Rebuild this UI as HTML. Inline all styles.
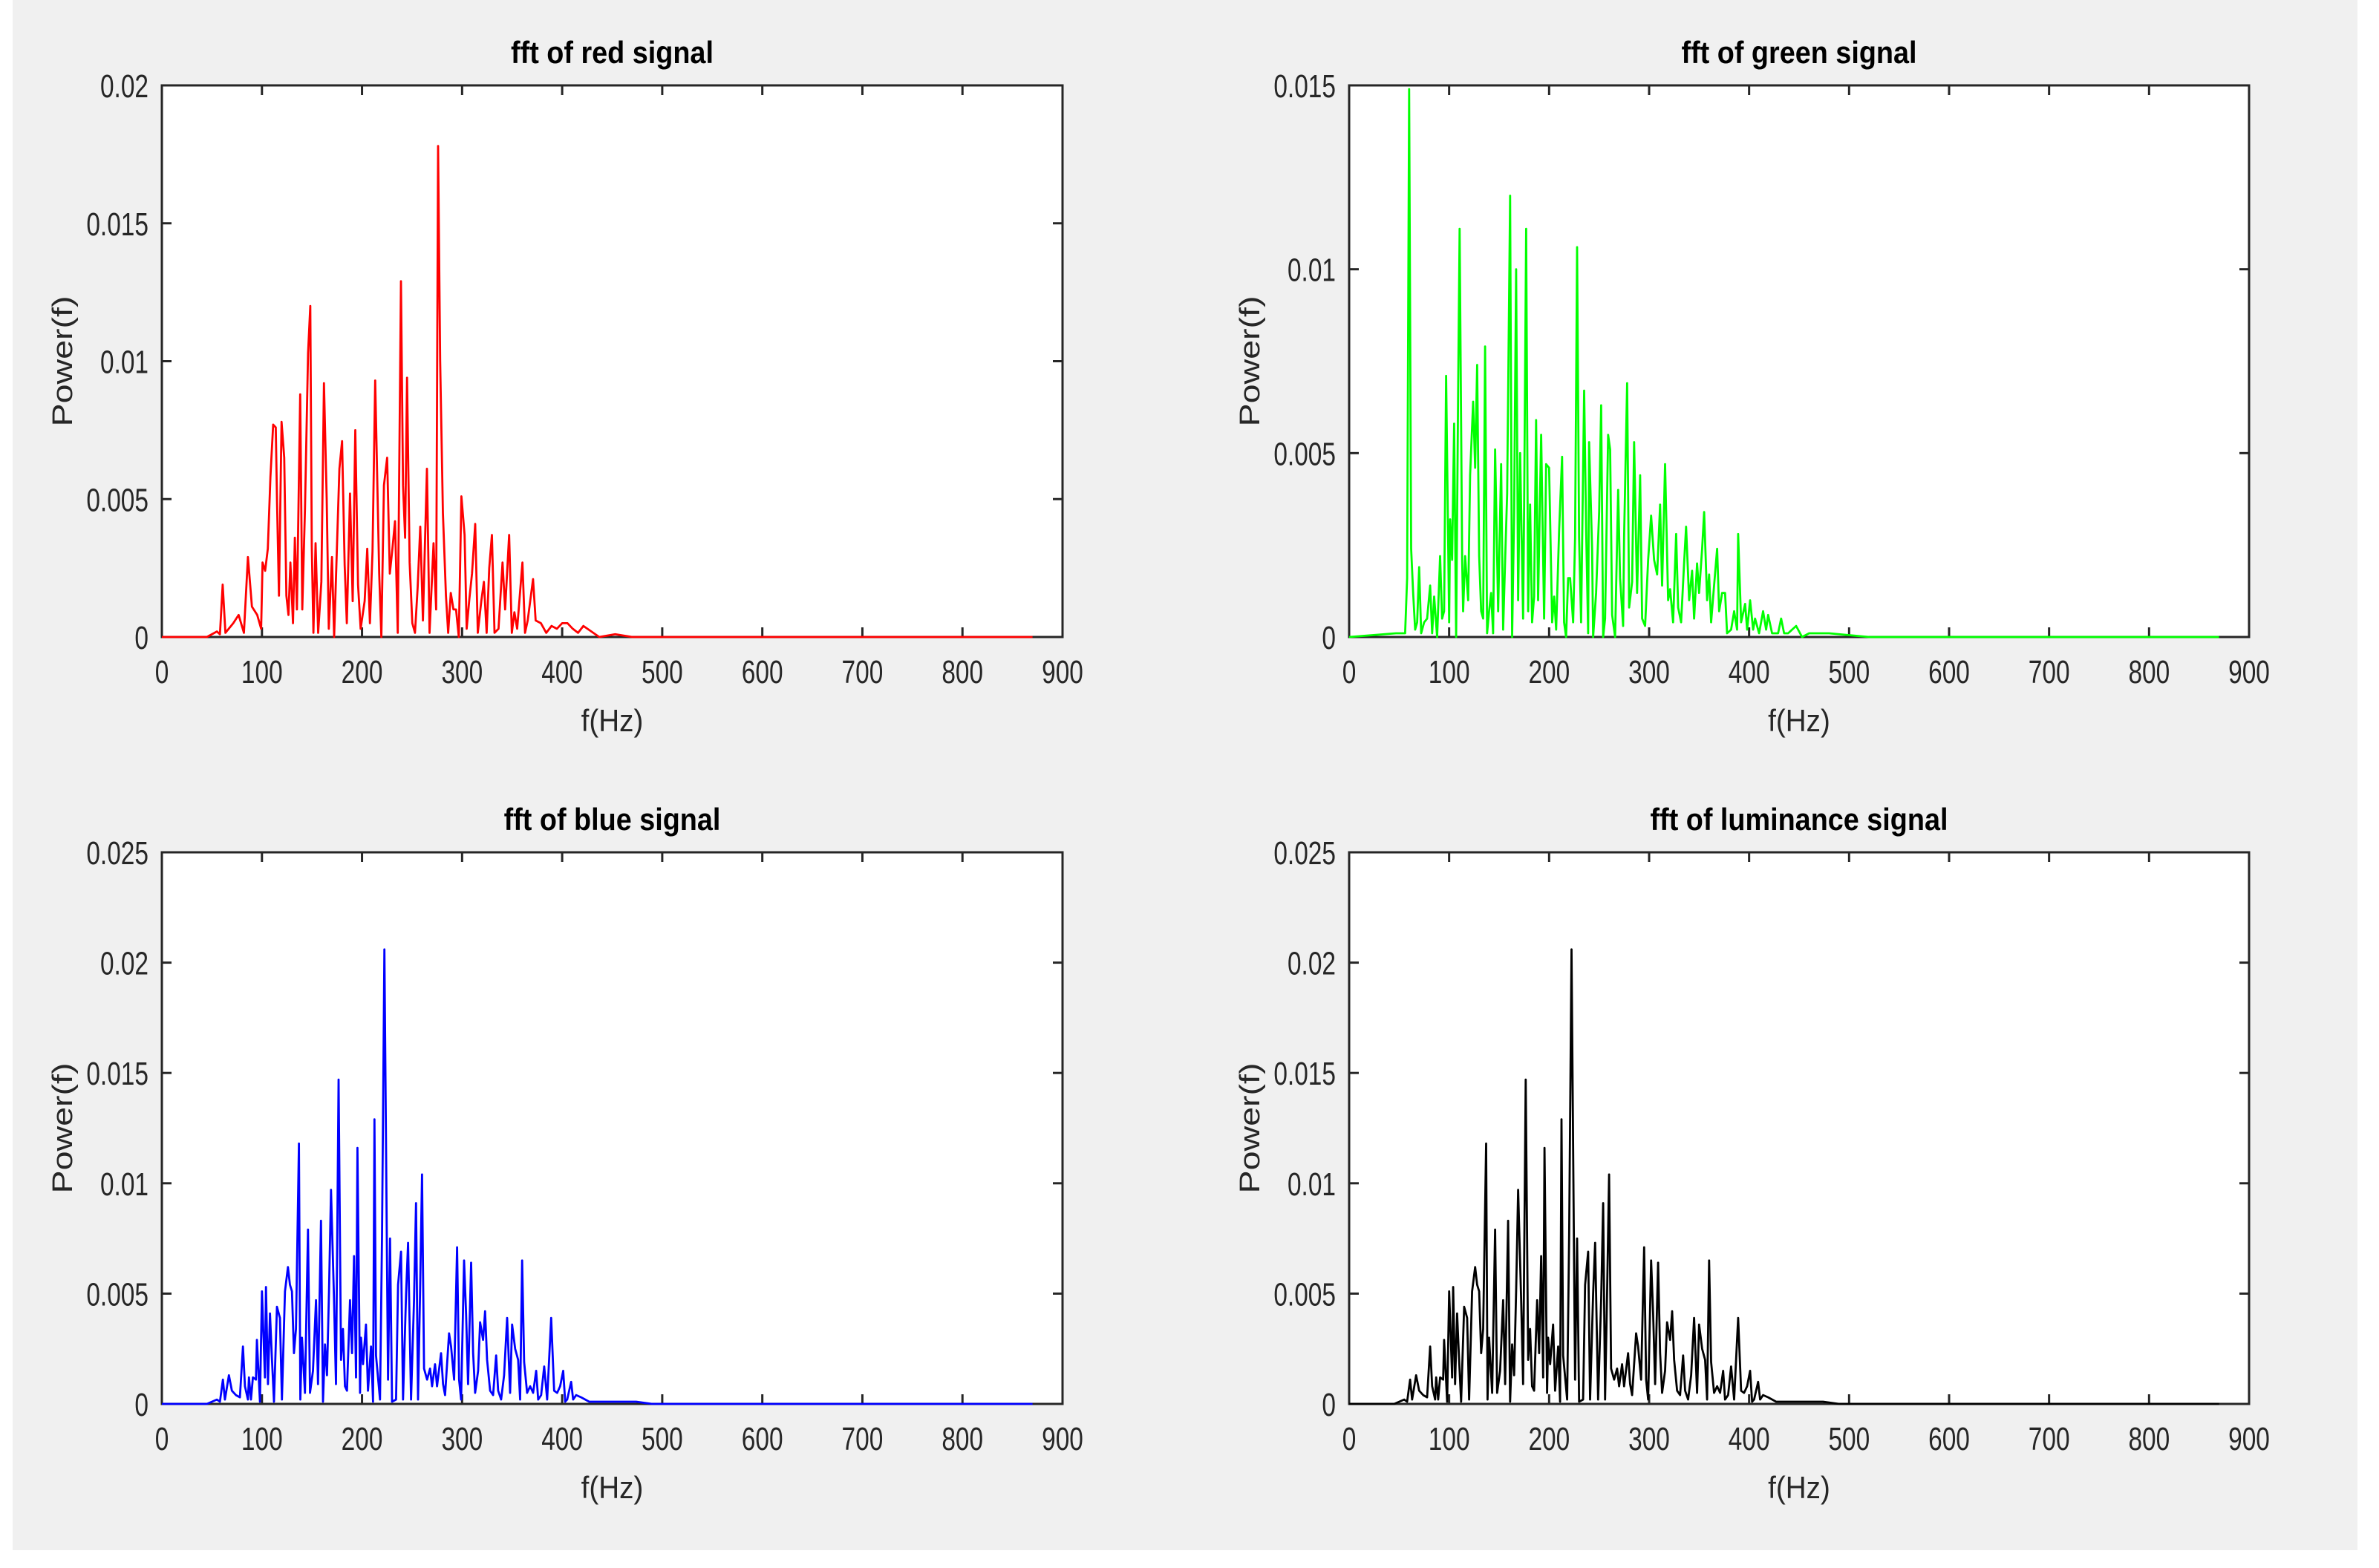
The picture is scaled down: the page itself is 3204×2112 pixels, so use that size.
<!DOCTYPE html>
<html><head><meta charset="utf-8"><style>
html,body{margin:0;padding:0;background:#fff;}
svg{display:block;font-family:"Liberation Sans",Arial,sans-serif;}
</style></head><body>
<svg id="fig" width="3204" height="2112" viewBox="0 0 3204 2112" xmlns="http://www.w3.org/2000/svg">
<rect x="0" y="0" width="3204" height="2112" fill="#ffffff"/>
<rect x="17" y="0" width="3158" height="2088" fill="#f0f0f0"/>
</svg>
<script>
// ---------- DATA ----------
const redFreq = [0,45,55,58,60.8,63.5,71.4,76.7,82,86,90,95.3,99.2,100.6,103.2,105.9,108.5,111.2,113.8,115.1,117,119.6,122.3,124.4,126.5,128.4,131,132.9,135,138.2,140.3,143,146.1,148.3,149.8,151.4,153.6,156.2,159.4,162,164.7,166.8,170,172.1,175.3,177.4,180.1,182.7,184.8,188,190.7,193.3,196,198.6,202.6,205.2,207.9,210.5,213.2,217.2,219.3,221.9,225.1,227.8,230.4,233,235.7,238.9,241,243.1,245,247.6,250.3,252.9,255.6,258.2,260.9,264.9,267.5,271.5,274.1,276,278.1,280.8,283.9,286.1,288.7,291.4,294,296.7,299.3,302.5,304.6,307.3,309.9,313.1,315.7,319.2,321.8,324.5,327.1,329.8,332.4,336.4,340.4,343,347,349.7,352.3,355,360.3,362.9,365.6,370.9,373.5,378.8,384.1,389.4,394.7,400,405.3,410.6,415.9,421.2,429.2,437.1,453,470,870];
const redPow = [0,0,0.0002,0.0001,0.0019,0.00015,0.0005,0.0008,0.00015,0.0029,0.0011,0.0008,0.0003,0.0027,0.0024,0.0032,0.0058,0.0077,0.0076,0.0049,0.0015,0.0078,0.0065,0.0015,0.0008,0.0027,0.0005,0.0036,0.001,0.0088,0.001,0.0046,0.0103,0.0120,0.0033,0.00015,0.0034,0.00015,0.002,0.0092,0.005,0.0003,0.0029,0,0.0037,0.0061,0.0071,0.0026,0.0005,0.0052,0.0013,0.0075,0.0019,0.0003,0.0013,0.0032,0.0005,0.0031,0.0093,0.0023,0,0.0055,0.0065,0.0023,0.0032,0.0042,0.00015,0.0129,0.0055,0.0036,0.0094,0.0027,0.0005,0.00015,0.0018,0.004,0.0006,0.0061,0.00015,0.0034,0.001,0.0178,0.0100,0.0045,0.0015,0.00015,0.0016,0.001,0.001,0,0.0051,0.0037,0.0003,0.0014,0.0023,0.0041,0.00015,0.0013,0.002,0.00015,0.0025,0.0037,0.00015,0.0003,0.0027,0.001,0.0037,0.00015,0.0009,0.0003,0.0027,0.00015,0.0006,0.0021,0.0006,0.0005,0.00015,0.0004,0.0003,0.0005,0.0005,0.0003,0.00015,0.0004,0.0002,0,0.0001,0,0];

const greenFreq = [0,46.8,56,58,60,62,64,66,68,70,72,75,78,81,83,85,88,91,93,95,97,100,101,103,105,107,109,110.5,113,114,116,119,121,124,126,128,130,132,134,136,138,140,142,144,146,149,152,154,156,158,161,163,165,167,169,171,174,175,177,179,181,183,185,187,189,192,195,197,200,203,205,207,210,213,215,217,219,221,224,226,228,230,232,235,237,239,240,243,244,247,250,252,254,256,259,261,263,266,269,271,274,275,278,280,283,285,288,291,293,296,299,302,305,308,311,313,316,319,321,324,327,329,332,335,337,340,343,345,348,350,353,355,358,360,362,365,368,370,373,376,378,382,385,388,389,392,396,398,401,404,406,410,414,417,419,423,429,432,435,439,447,453,460,480,520,870];
const greenPow = [0,0.0001,0.0001,0.0016,0.0149,0.0024,0.0012,0.0002,0.0004,0.0019,0.0001,0.0004,0.0005,0.0014,0.0001,0.0011,0,0.0022,0.0005,0.0007,0.0071,0.0004,0.0032,0.0021,0.0058,0,0.0067,0.0111,0.0021,0.0007,0.0022,0.0010,0.0044,0.0064,0.0046,0.0074,0.0022,0.0007,0.0005,0.0079,0.0001,0.0007,0.0012,0.0001,0.0051,0.0007,0.0047,0.0002,0.0021,0.0039,0.0120,0,0.0034,0.0100,0.0010,0.0050,0.0005,0.0036,0.0111,0.0007,0.0036,0.0004,0.0011,0.0059,0.0010,0.0055,0.0005,0.0047,0.0046,0.0004,0.0011,0.0002,0.0029,0.0049,0.0004,0,0.0016,0.0016,0.0004,0.0027,0.0106,0.0027,0.0004,0.0067,0.0029,0.0001,0.0053,0.0024,0,0.0012,0.0034,0.0063,0,0.0005,0.0055,0.0051,0.0006,0,0.0040,0.0016,0.0003,0.0027,0.0069,0.0008,0.0015,0.0053,0.0012,0.0044,0.0005,0.0003,0.0021,0.0033,0.0021,0.0017,0.0036,0.0014,0.0047,0.0010,0.0013,0.0004,0.0028,0.0008,0.0004,0.0020,0.0030,0.0010,0.0018,0.0005,0.0020,0.0012,0.0024,0.0034,0.0010,0.0017,0.0004,0.0014,0.0024,0.0007,0.0012,0.0012,0.0001,0.0002,0.0007,0.0002,0.0028,0.0004,0.0009,0.0002,0.0010,0.0002,0.0005,0.0001,0.0007,0.0002,0.0006,0.0001,0.0001,0.0005,0.0001,0.0001,0.0003,0,0.0001,0.0001,0,0];

const blueFreq = [0,45,55,58,61,63,67,70,74,78,81,83,86,87,89,91,94,95,98,100,103,104,106,108,110,112,115,118,120,123,126,128,130,132,134,137,138.4,140,143,146,148,151,154,156,159,161,163,165,167,169,172,174,176.6,179,181,183,185,188,190,192,194,195.4,198,199,201,204,206,209,211,212.4,214,218,220,222.4,225,226,228,230,234,236,239,241,244,246,249,252,254,256,258,260,262,265,268,270,273,275,279,281,283,287,289,292,295,297,299,302,304,306,309,311,313,316,318,321,323,325,328,331,334,336,339,342,345,348,350,353,356,358,360,362,365,368,371,374,376,379,382,385,389,392,395,398,401,403,405,409,411,414,419,427,437,445,458,474,490,870];
const bluePow = [0,0,0.0002,0.0001,0.0011,0.0002,0.0013,0.0006,0.0004,0.0003,0.0026,0.0008,0.0002,0.0012,0.0002,0.0012,0.0011,0.0029,0.0001,0.0051,0.0012,0.0053,0.0009,0.0041,0.0020,0.0001,0.0044,0.0039,0.0002,0.0051,0.0062,0.0054,0.0051,0.0023,0.0034,0.0118,0.0002,0.0030,0.0005,0.0079,0.0005,0.0015,0.0047,0.0009,0.0083,0.0001,0.0027,0.0013,0.0051,0.0097,0.0048,0.0009,0.0147,0.0020,0.0034,0.0008,0.0006,0.0047,0.0023,0.0067,0.0012,0.0116,0.0005,0.0030,0.0018,0.0036,0.0006,0.0026,0.0001,0.0129,0.0022,0.0002,0.0076,0.0206,0.0061,0.0011,0.0075,0.0001,0.0002,0.0054,0.0069,0.0002,0.0050,0.0073,0.0002,0.0047,0.0091,0.0002,0.0050,0.0104,0.0016,0.0011,0.0016,0.0008,0.0018,0.0008,0.0023,0.0009,0.0004,0.0032,0.0026,0.0011,0.0071,0.0011,0.0002,0.0065,0.0041,0.0009,0.0064,0.0023,0.0005,0.0015,0.0037,0.0029,0.0042,0.0020,0.0006,0.0004,0.0022,0.0006,0.0002,0.0013,0.0039,0.0005,0.0036,0.0025,0.0020,0.0002,0.0065,0.0019,0.0005,0.0008,0.0005,0.0015,0.0002,0.0004,0.0017,0.0002,0.0039,0.0006,0.0005,0.0008,0.0015,0.0001,0.0002,0.0010,0.0002,0.0004,0.0003,0.0001,0.0001,0.0001,0.0001,0.0001,0,0];

const lumFreq = blueFreq.slice();
const lumPow = [0,0,0.0002,0.0001,0.0011,0.0002,0.0013,0.0006,0.0004,0.0003,0.0026,0.0008,0.0002,0.0012,0.0002,0.0012,0.0011,0.0029,0.0001,0.0051,0.0012,0.0053,0.0009,0.0041,0.0020,0.0001,0.0044,0.0039,0.0002,0.0051,0.0062,0.0054,0.0051,0.0023,0.0034,0.0118,0.0002,0.0030,0.0005,0.0079,0.0005,0.0015,0.0047,0.0009,0.0083,0.0001,0.0027,0.0013,0.0051,0.0097,0.0048,0.0009,0.0147,0.0020,0.0034,0.0008,0.0006,0.0047,0.0023,0.0067,0.0012,0.0116,0.0005,0.0030,0.0018,0.0036,0.0006,0.0026,0.0001,0.0129,0.0022,0.0002,0.0076,0.0206,0.0061,0.0011,0.0075,0.0001,0.0002,0.0054,0.0069,0.0002,0.0050,0.0073,0.0002,0.0047,0.0091,0.0002,0.0050,0.0104,0.0016,0.0011,0.0016,0.0008,0.0018,0.0008,0.0023,0.0009,0.0004,0.0032,0.0026,0.0011,0.0071,0.0011,0.0002,0.0065,0.0041,0.0009,0.0064,0.0023,0.0005,0.0015,0.0037,0.0029,0.0042,0.0020,0.0006,0.0004,0.0022,0.0006,0.0002,0.0013,0.0039,0.0005,0.0036,0.0025,0.0020,0.0002,0.0065,0.0019,0.0005,0.0008,0.0005,0.0015,0.0002,0.0004,0.0017,0.0002,0.0039,0.0006,0.0005,0.0008,0.0015,0.0001,0.0002,0.0010,0.0002,0.0004,0.0003,0.0001,0.0001,0.0001,0.0001,0.0001,0,0];

const xTicks = [0,100,200,300,400,500,600,700,800,900];
const yTicksRed = [0,0.005,0.01,0.015,0.02];
const yTickLabelsRed = ["0","0.005","0.01","0.015","0.02"];
const yTicksGreen = [0,0.005,0.01,0.015];
const yTickLabelsGreen = ["0","0.005","0.01","0.015"];
const yTicksBlue = [0,0.005,0.01,0.015,0.02,0.025];
const yTickLabelsBlue = ["0","0.005","0.01","0.015","0.02","0.025"];
const titles = ["fft of red signal","fft of green signal","fft of blue signal","fft of luminance signal"];

// ---------- RENDER ----------
const NS = "http://www.w3.org/2000/svg";
const svg = document.getElementById("fig");
function mk(tag, attrs, parent){
  const e = document.createElementNS(NS, tag);
  for (const k in attrs) e.setAttribute(k, attrs[k]);
  (parent||svg).appendChild(e);
  return e;
}
function txt(str, x, y, size, anchor, sx, weight, fill, parent){
  const t = mk("text", {x:0, y:0, "font-size":size, "text-anchor":anchor, fill:fill||"#262626",
    transform:`translate(${x},${y}) scale(${sx},1)`, "font-weight":weight||"normal"}, parent);
  t.textContent = str;
  return t;
}

const panels = [
  {key:"red", x0:218, x1:1431, y0:115, y1:858, ymax:0.02, freq:redFreq, pow:redPow, color:"#ff0000", yt:yTicksRed, ytl:yTickLabelsRed, title:titles[0]},
  {key:"green", x0:1817, x1:3029, y0:115, y1:858, ymax:0.015, freq:greenFreq, pow:greenPow, color:"#00ff00", yt:yTicksGreen, ytl:yTickLabelsGreen, title:titles[1]},
  {key:"blue", x0:218, x1:1431, y0:1148, y1:1891, ymax:0.025, freq:blueFreq, pow:bluePow, color:"#0000ff", yt:yTicksBlue, ytl:yTickLabelsBlue, title:titles[2]},
  {key:"luminance", x0:1817, x1:3029, y0:1148, y1:1891, ymax:0.025, freq:lumFreq, pow:lumPow, color:"#000000", yt:yTicksBlue, ytl:yTickLabelsBlue, title:titles[3]}
];

panels.forEach(p => {
  const xs = f => p.x0 + f/900*(p.x1-p.x0);
  const ys = v => p.y1 - v/p.ymax*(p.y1-p.y0);
  const g = mk("g", {});
  
  

  const bg = mk("rect", {x:p.x0, y:p.y0, width:p.x1-p.x0, height:p.y1-p.y0, fill:"#ffffff"}, g);
  
  

  // axes box
  const box = mk("rect", {x:p.x0, y:p.y0, width:p.x1-p.x0, height:p.y1-p.y0, fill:"none", stroke:"#262626", "stroke-width":3}, g);
  
  

  // x ticks
  xTicks.forEach(t => {
    const x = xs(t);
    mk("line", {x1:x, x2:x, y1:p.y1, y2:p.y1-13, stroke:"#262626", "stroke-width":3}, g);
    mk("line", {x1:x, x2:x, y1:p.y0, y2:p.y0+13, stroke:"#262626", "stroke-width":3}, g);
    const lab = txt(String(t), x, p.y1+62, 44, "middle", 0.76, "normal", "#262626", g);
    
    
  });
  // y ticks
  p.yt.forEach((t,i) => {
    const y = ys(t);
    mk("line", {x1:p.x0, x2:p.x0+13, y1:y, y2:y, stroke:"#262626", "stroke-width":3}, g);
    mk("line", {x1:p.x1, x2:p.x1-13, y1:y, y2:y, stroke:"#262626", "stroke-width":3}, g);
    const lab = txt(p.ytl[i], p.x0-18, y+16, 44, "end", 0.76, "normal", "#262626", g);
    
    
  });

  // series (drawn on top of axes like MATLAB)
  let d = "";
  p.freq.forEach((f,i) => { d += (i?"L":"M") + xs(f).toFixed(1) + "," + ys(p.pow[i]).toFixed(1); });
  const line = mk("path", {d:d, fill:"none", stroke:p.color, "stroke-width":2.8, "stroke-linejoin":"round"}, g);
  
  

  const cx = (p.x0+p.x1)/2;
  const ti = txt(p.title, cx, p.y0-30, 42, "middle", 0.9, "bold", "#000000", g);
  
  
  const xl = txt("f(Hz)", cx, p.y1+127, 42, "middle", 0.92, "normal", "#262626", g);
  
  
  const ycx = p.x0 - 134, ycy = (p.y0+p.y1)/2;
  const yl = mk("text", {x:0, y:0, "font-size":38, "text-anchor":"middle", fill:"#262626",
    textLength:176, lengthAdjust:"spacingAndGlyphs",
    transform:`translate(${ycx+13},${ycy}) rotate(-90)`}, g);
  yl.textContent = "Power(f)";
  
  
});
</script>
</body></html>
